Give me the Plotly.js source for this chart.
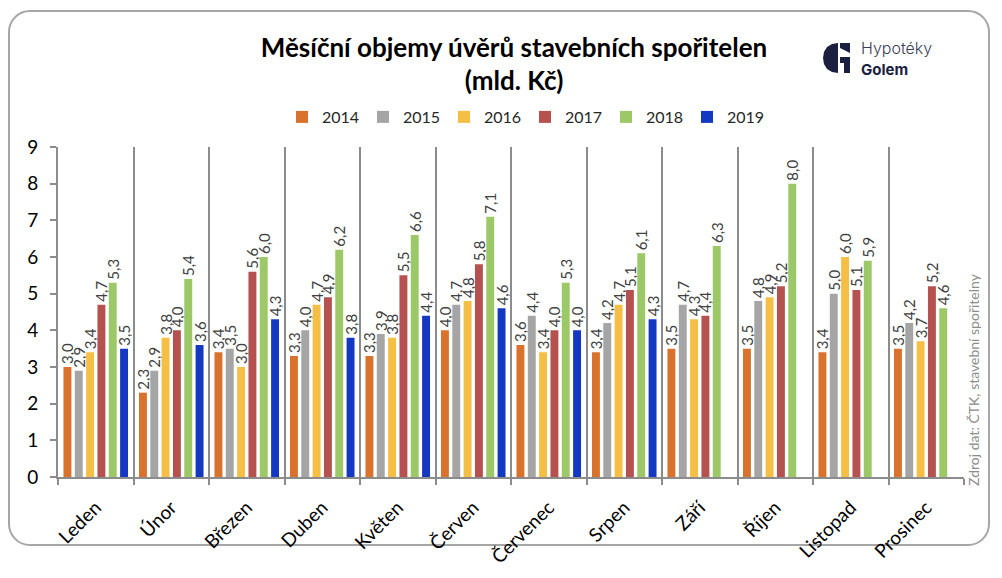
<!DOCTYPE html>
<html>
<head>
<meta charset="utf-8">
<script src="https://cdn.plot.ly/plotly-3.0.1.min.js"></script>
<style>
  html, body { margin: 0; padding: 0; background: #ffffff; }
  #wrap { position: relative; width: 1002px; height: 578px; }
  #frame { position: absolute; left: 8px; top: 10px; width: 982px; height: 536px;
           border: 2px solid #a6a6a6; border-radius: 22px; box-sizing: border-box; }
  #chart { position: absolute; left: 0; top: 0; width: 1002px; height: 578px; }
</style>
</head>
<body>
<div id="wrap">
  <div id="frame"></div>
  <div id="chart"></div>
</div>
<script>
const months = ["Leden","Únor","Březen","Duben","Květen","Červen","Červenec","Srpen","Září","Říjen","Listopad","Prosinec"];
const years = ["2014","2015","2016","2017","2018","2019"];
const v2014 = [3.0, 2.3, 3.4, 3.3, 3.3, 4.0, 3.6, 3.4, 3.5, 3.5, 3.4, 3.5];
const v2015 = [2.9, 2.9, 3.5, 4.0, 3.9, 4.7, 4.4, 4.2, 4.7, 4.8, 5.0, 4.2];
const v2016 = [3.4, 3.8, 3.0, 4.7, 3.8, 4.8, 3.4, 4.7, 4.3, 4.9, 6.0, 3.7];
const v2017 = [4.7, 4.0, 5.6, 4.9, 5.5, 5.8, 4.0, 5.1, 4.4, 5.2, 5.1, 5.2];
const v2018 = [5.3, 5.4, 6.0, 6.2, 6.6, 7.1, 5.3, 6.1, 6.3, 8.0, 5.9, 4.6];
const v2019 = [3.5, 3.6, 4.3, 3.8, 4.4, 4.6, 4.0, 4.3, null, null, null, null];
const seriesValues = [v2014, v2015, v2016, v2017, v2018, v2019];
const colors = ["#D9722C", "#A5A5A5", "#F5BF45", "#B5524F", "#9CC867", "#1538C2"];

const FONT = "Lato, 'Open Sans', sans-serif";

const traces = years.map((yr, i) => ({
  type: "bar",
  name: yr,
  x: months,
  y: seriesValues[i],
  marker: { color: colors[i] },
  texttemplate: "%{y:.1f}",
  textposition: "outside",
  textangle: -90,
  constraintext: "none",
  cliponaxis: false,
  textfont: { family: FONT, size: 15, color: "#404040" },
  hoverinfo: "x+y+name"
}));

// plot area in pixels
const L = 58, R = 38, T = 147, B = 101;
const W = 1002 - L - R, H = 578 - T - B;
const px = x => (x - L) / W;
const py = y => (578 - B - y) / H;

function pathFrom(points) {
  return "M" + points.map(p => px(p[0]).toFixed(5) + "," + py(p[1]).toFixed(5)).join(" L") + " Z";
}

const logoColor = "#1c2040";
const shapes = [
  { type: "path", xref: "paper", yref: "paper", line: { width: 0 }, fillcolor: logoColor,
    path: pathFrom([[838,43],[832,44],[827,47],[824,52],[823,58],[824,64],[827,69],[832,72],[838,73],[838,43]]) },
  { type: "path", xref: "paper", yref: "paper", line: { width: 0 }, fillcolor: logoColor,
    path: pathFrom([[840,43],[850,43],[850,53],[840,48]]) },
  { type: "path", xref: "paper", yref: "paper", line: { width: 0 }, fillcolor: logoColor,
    path: pathFrom([[840,57],[850,57],[850,73],[844,73],[844,63],[840,63]]) }
];

const layout = {
  width: 1002, height: 578,
  margin: { l: L, r: R, t: T, b: B, pad: 0 },
  paper_bgcolor: "rgba(0,0,0,0)",
  plot_bgcolor: "rgba(0,0,0,0)",
  separators: ", ",
  font: { family: FONT, color: "#262626" },
  title: {
    text: "<b>Měsíční objemy úvěrů stavebních spořitelen<br>(mld. Kč)</b>",
    font: { family: FONT, size: 26, color: "#000000" },
    x: px(514), xref: "paper", xanchor: "center",
    y: 0.902, yref: "container", yanchor: "middle"
  },
  barmode: "group",
  bargap: 0.1,
  bargroupgap: 0.3,
  showlegend: true,
  legend: {
    orientation: "h", x: px(525), xanchor: "center", y: py(117), yanchor: "middle",
    font: { family: FONT, size: 16, color: "#262626" },
    itemclick: false, traceorder: "normal", itemwidth: 30,
    entrywidth: 36, entrywidthmode: "pixels"
  },
  xaxis: {
    type: "category",
    tickson: "boundaries",
    showgrid: true, gridcolor: "#8c8c8c", gridwidth: 2,
    showline: true, linecolor: "#8c8c8c", linewidth: 2,
    ticks: "outside", ticklen: 6, tickcolor: "#8c8c8c", tickwidth: 2,
    tickangle: -45,
    tickfont: { family: FONT, size: 19, color: "#000000" },
    ticklabelstandoff: 10,
    zeroline: false
  },
  yaxis: {
    range: [0, 9],
    dtick: 1,
    showgrid: false,
    zeroline: false,
    showline: true, linecolor: "#8c8c8c", linewidth: 2,
    ticks: "outside", ticklen: 6, tickcolor: "#8c8c8c", tickwidth: 2,
    tickfont: { family: FONT, size: 19, color: "#000000" },
    ticklabelstandoff: 8
  },
  shapes: shapes,
  annotations: [
    { text: "Zdroj dat: ČTK, stavební spořitelny", textangle: -90,
      xref: "paper", yref: "paper", x: px(973), y: py(380), xanchor: "center", yanchor: "middle",
      showarrow: false, font: { family: FONT, size: 14, color: "#8c8c8c" } },
    { text: "Hypotéky", xref: "paper", yref: "paper", x: px(859), y: py(48),
      xanchor: "left", yanchor: "middle", showarrow: false,
      font: { family: "Inter, Lato, sans-serif", size: 16, color: "#3a3d55", weight: 300 } },
    { text: "<b>Golem</b>", xref: "paper", yref: "paper", x: px(859), y: py(70),
      xanchor: "left", yanchor: "middle", showarrow: false,
      font: { family: "Inter, Lato, sans-serif", size: 15, color: logoColor } }
  ]
};

Plotly.newPlot("chart", traces, layout, { displayModeBar: false, staticPlot: true });
</script>
</body>
</html>
